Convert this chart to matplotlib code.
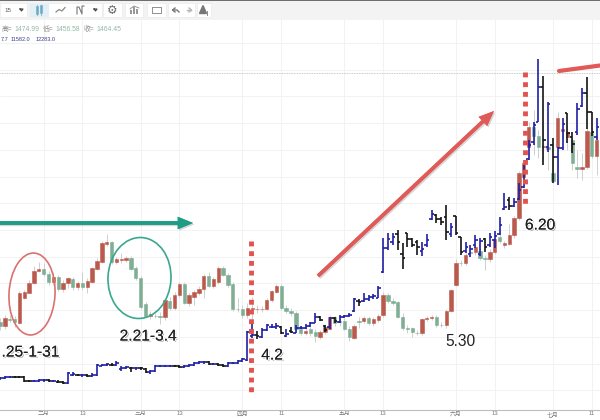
import matplotlib
matplotlib.use("Agg")
import matplotlib.pyplot as plt
import matplotlib.patheffects as pe
from matplotlib.patches import Ellipse, FancyArrowPatch, Rectangle
import numpy as np

plt.rcParams['font.family'] = ['Liberation Sans', 'Noto Sans CJK SC', 'DejaVu Sans']

# daily candles, one entry per trading day
opens = [1215.3, 1211, 1218.5, 1218, 1214.3, 1239, 1244.3, 1254.3, 1266, 1268.3, 1263, 1255, 1260.3, 1248, 1254, 1258, 1249.7, 1254, 1249.7, 1255.3,
         1268, 1275.3, 1293.3, 1294.7, 1274.7, 1277, 1276.7, 1279.3, 1268.7, 1259, 1233, 1221, 1221.5, 1221, 1220.3, 1236, 1229, 1242, 1252.7, 1234,
         1240.3, 1244.3, 1247.7, 1261, 1251, 1255, 1269, 1262, 1252.7, 1228.3, 1228.3, 1222, 1228, 1228, 1228, 1228.3, 1236.7, 1245.3, 1251, 1228.7,
         1226, 1223.7, 1207.7, 1204.3, 1208, 1205, 1200.3, 1205, 1208.3, 1219.7, 1216, 1216.3, 1208.3, 1199.3, 1216, 1215.7, 1218.7, 1213.7, 1217, 1222,
         1242, 1236, 1234.7, 1220.3, 1209, 1208.7, 1204.5, 1203.7, 1217.7, 1218.7, 1219.7, 1212.2, 1211.7, 1226.3, 1252, 1274.5, 1273.7, 1285, 1284.7, 1286,
         1279.3, 1277.7, 1284.7, 1300, 1291.7, 1293.3, 1301.7, 1318.7, 1360, 1390, 1410, 1401, 1390, 1390, 1364, 1390, 1406, 1400, 1397, 1370,
         1368, 1370, 1405, 1381]
closes = [1211.3, 1219, 1217.5, 1215, 1244.3, 1245, 1254.3, 1266, 1268.3, 1263, 1255.3, 1260.3, 1248, 1254.3, 1259, 1249.7, 1253.7, 1249.7, 1256, 1268.7,
          1276, 1293.7, 1294.7, 1274.7, 1277.7, 1278, 1279, 1268, 1259, 1229.7, 1221.3, 1223.3, 1221, 1220.5, 1237, 1229.3, 1242, 1252.7, 1234.3, 1242.3,
          1244.7, 1247.7, 1261, 1251, 1257.7, 1269, 1262, 1252, 1227.7, 1227.7, 1222, 1228.7, 1229, 1228.5, 1228.5, 1236.7, 1245.7, 1251, 1228.7, 1226.3,
          1223.7, 1207.7, 1204.3, 1206, 1204.3, 1201, 1205, 1210.3, 1219.7, 1213.7, 1215, 1208, 1199.7, 1210.7, 1215, 1218.7, 1213.7, 1218, 1220.7, 1242,
          1235.7, 1234.5, 1220.3, 1208.7, 1208.5, 1205.3, 1204, 1217.7, 1219, 1220, 1212, 1211.7, 1226.3, 1247, 1273.7, 1274, 1282, 1284, 1289.7, 1279.3,
          1277.7, 1285.3, 1298.3, 1296.3, 1293.7, 1301.7, 1318.7, 1364, 1374, 1410, 1401, 1390, 1391, 1388, 1356, 1419, 1408, 1405, 1374, 1368.5,
          1370, 1406, 1381, 1397]
highs = [1219, 1222, 1222, 1221, 1246, 1247, 1257, 1271, 1275.3, 1274, 1266, 1265, 1262, 1257, 1260, 1260, 1256, 1265, 1259, 1270,
         1279, 1296, 1303, 1296, 1280, 1284, 1281, 1281, 1271, 1261, 1235, 1226, 1224, 1225, 1239, 1240, 1245, 1255, 1255, 1244,
         1247, 1251, 1263, 1265, 1260, 1271, 1271, 1264, 1255, 1239, 1232, 1234, 1240, 1232, 1231, 1239, 1247, 1253, 1253, 1232,
         1229, 1226, 1210, 1211, 1210, 1208, 1207, 1213, 1222, 1221, 1219, 1219, 1211, 1213, 1220, 1221, 1221, 1220, 1223, 1245,
         1244, 1239, 1236, 1224, 1212, 1210, 1207, 1219, 1221, 1222, 1222, 1215, 1228, 1248, 1278, 1277, 1284, 1288, 1293, 1289,
         1282, 1288, 1301, 1305, 1296, 1313, 1321, 1366, 1377, 1415, 1427, 1407, 1417, 1395, 1382, 1425, 1412, 1412, 1399, 1387,
         1384, 1409, 1409, 1402]
lows = [1207, 1208, 1215, 1210, 1213, 1238, 1244, 1253, 1265, 1261, 1252, 1252, 1246, 1245, 1249, 1247, 1247, 1247, 1244, 1254,
        1267, 1274, 1291, 1273, 1273, 1274, 1275, 1267, 1257, 1228, 1220, 1218, 1219, 1213, 1217, 1227, 1227, 1240, 1233, 1231,
        1232, 1242, 1239, 1250, 1249, 1253, 1261, 1250, 1226, 1225, 1219, 1219, 1215, 1224, 1225, 1227, 1235, 1244, 1227, 1224,
        1221, 1205, 1202, 1202, 1201, 1195, 1198, 1203, 1207, 1211, 1211, 1207, 1196, 1198, 1209, 1214, 1212, 1211, 1215, 1220,
        1234, 1232, 1219, 1207, 1204, 1200, 1202, 1202, 1216, 1217, 1210, 1210, 1209, 1225, 1251, 1271, 1272, 1281, 1282, 1277,
        1267, 1275, 1283, 1294, 1289, 1292, 1299, 1317, 1357, 1387, 1382, 1379, 1377, 1367, 1354, 1367, 1398, 1387, 1367, 1359,
        1357, 1368, 1379, 1362]

# second symbol drawn as bars (open tick left, close tick right)
bar_opens = [1158, 1159, 1160, 1160.3, 1160.5, 1160, 1156.5, 1156, 1156, 1156.7, 1156.7, 1156, 1155.5, 1155, 1153.7, 1162.5, 1162.5, 1161.7, 1161.7, 1161,
             1162.5, 1171.5, 1172, 1172.5, 1172, 1168, 1169, 1169, 1168.7, 1169.3, 1168, 1165, 1166, 1171, 1171, 1171, 1171.5, 1171, 1170.5, 1171,
             1172, 1174.3, 1174.7, 1175, 1173, 1173, 1172, 1171, 1174, 1174.3, 1176.3, 1177.5, 1201, 1202, 1200, 1207, 1210, 1210, 1210, 1201,
             1206, 1204, 1209, 1209.5, 1211.5, 1214, 1220, 1211, 1210, 1219, 1215, 1220, 1221, 1226, 1236, 1236, 1238, 1240, 1239, 1265,
             1289, 1295, 1303, 1283, 1304, 1298, 1295, 1286, 1292, 1318, 1322, 1318, 1320, 1303, 1321, 1300, 1286, 1283, 1292, 1283,
             1298, 1292, 1297, 1303, 1328, 1337, 1331, 1338, 1350, 1378, 1395, 1415, 1450, 1390, 1392, 1380, 1389, 1424, 1400, 1405,
             1431, 1444, 1425, 1400]
bar_closes = [1159, 1160, 1160.3, 1160, 1160.3, 1156.3, 1156.2, 1156, 1156.7, 1156.7, 1156, 1156, 1155, 1153.7, 1164.3, 1162.7, 1161.7, 1161.7, 1161, 1162.5,
              1172, 1172, 1173, 1172, 1174.3, 1169, 1170, 1168.7, 1169.3, 1168.7, 1165, 1166, 1171, 1171, 1171, 1171.5, 1171, 1170, 1171, 1172,
              1174.3, 1174.7, 1175, 1173, 1173, 1172, 1171, 1174.3, 1174.3, 1176.3, 1177.7, 1205.3, 1202, 1201, 1207, 1212, 1210.3, 1211, 1203.7, 1203,
              1205, 1209, 1209.5, 1211.5, 1214, 1220.3, 1217, 1207, 1219, 1216, 1220, 1221, 1222, 1238, 1235, 1238, 1240, 1241, 1249, 1289,
              1298, 1300, 1295, 1279, 1298, 1292, 1290, 1288, 1297, 1323, 1318, 1315, 1305, 1310, 1304, 1285, 1290, 1288, 1297, 1296,
              1290, 1300, 1301, 1312, 1330, 1331, 1335, 1347, 1365, 1392, 1412, 1450, 1397, 1433, 1380, 1389, 1413, 1404, 1393, 1428,
              1444, 1425, 1405, 1410]
bar_highs = [1160, 1161, 1161.5, 1161.5, 1161.5, 1161, 1157.5, 1157, 1158, 1158, 1158, 1157, 1157, 1156, 1165, 1165, 1163.5, 1163, 1163, 1164,
             1173, 1173, 1174, 1174, 1176, 1171, 1171, 1170, 1170.5, 1170, 1169, 1167, 1172, 1172, 1172, 1172.5, 1172.5, 1172, 1172, 1173,
             1175, 1176, 1176, 1176, 1174, 1174, 1173, 1175, 1175, 1177, 1179, 1206, 1214, 1206, 1208.7, 1213, 1213, 1214, 1211, 1207.7,
             1210, 1212, 1211, 1213, 1215.5, 1224, 1221, 1212, 1220, 1220, 1222, 1222, 1224, 1239, 1238, 1244, 1242, 1243, 1251, 1299,
             1304, 1304, 1307, 1294, 1304, 1299, 1297, 1295, 1303, 1327, 1323, 1320, 1332, 1314, 1321, 1300, 1295, 1292, 1302, 1299,
             1299, 1304, 1306, 1320, 1344, 1340, 1339, 1354, 1372, 1397, 1415, 1478, 1461, 1435, 1399, 1390, 1419, 1424, 1405, 1434,
             1449, 1460, 1425, 1419]
bar_lows = [1157, 1158, 1159, 1159, 1159, 1155.5, 1155, 1155, 1155, 1155.5, 1155, 1155, 1154, 1153, 1153, 1161.5, 1161, 1160.5, 1160, 1160,
            1161.5, 1171, 1171, 1171, 1171, 1166, 1168, 1165.5, 1167.5, 1167.5, 1164, 1163.5, 1165, 1170, 1170, 1170, 1170, 1169, 1169.5, 1170,
            1171, 1173, 1173.5, 1172, 1172, 1171, 1170, 1170, 1173, 1173, 1175, 1176, 1199, 1198, 1199, 1206, 1209, 1208, 1203, 1200,
            1204, 1204, 1208, 1208, 1210, 1214, 1216, 1205, 1208, 1214, 1214, 1219, 1220, 1225.3, 1231, 1235, 1236, 1238, 1239, 1264,
            1287, 1292, 1287, 1268, 1290, 1290, 1282, 1281, 1290, 1317, 1314, 1312, 1297, 1300, 1302, 1282, 1284, 1280, 1289, 1281,
            1285, 1290, 1289, 1302, 1327, 1327, 1330, 1337, 1349, 1377, 1392, 1415, 1372, 1385, 1354, 1352, 1387, 1394, 1384, 1402,
            1430, 1408, 1401, 1397]

last_price = 1464
tick_days = [9, 17, 29, 37, 50, 58, 71, 79, 94, 102, 114, 122]
tick_names = ['二月', '13', '三月', '13', '四月', '11', '五月', '13', '六月', '13', '七月', '11']

UP = '#bb5a4c'
DOWN = '#7fae94'


def draw_candles(ax):
    days = np.arange(len(opens))
    o = np.array(opens)
    c = np.array(closes)
    colors = [UP if a >= b else DOWN for a, b in zip(c, o)]
    ax.vlines(days, lows, highs, color='#cfcfcf', lw=0.7, zorder=2)
    ax.bar(days, np.abs(c - o), bottom=np.minimum(o, c), width=0.7,
           color=colors, edgecolor=colors, lw=0.4, zorder=3)


def draw_bars(ax):
    days = np.arange(len(bar_opens))
    for d, o, h, l, c in zip(days, bar_opens, bar_highs, bar_lows, bar_closes):
        col = '#1f1fa6' if c >= o else '#151515'
        ax.vlines(d, l, h, color=col, lw=1.2, zorder=4)
        ax.hlines(o, d - 0.5, d, color=col, lw=1.2, zorder=4)
        ax.hlines(c, d, d + 0.5, color=col, lw=1.2, zorder=4)


def draw_toolbar(top):
    top.add_patch(Rectangle((0, 0), 600, 19.5, fc='#f3f3f3', ec='none'))
    top.add_patch(Rectangle((0, 0), 600, 1.2, fc='#6e6e6e', ec='none'))
    for x0, x1 in [(0, 27), (29, 102), (103, 122), (125, 143), (147, 166), (168, 195), (197, 211)]:
        top.add_patch(Rectangle((x0, 3), x1 - x0, 14, fc='white', ec='#ececec', lw=0.5))
    top.add_patch(Rectangle((30, 3.5), 19, 13, fc='#e3eff6', ec='none'))
    top.text(8, 10, '15', fontsize=4.5, color='#555555', ha='center', va='center')
    for x in [21.5, 95.5]:
        top.plot([x - 1.5, x + 1.5, x, x - 1.5], [9, 9, 11, 9], color='#444444', lw=0.8)
    # candle icon
    top.plot([37, 37], [5, 15], color='#7fb5c9', lw=0.6)
    top.plot([41, 41], [5, 15], color='#7fb5c9', lw=0.6)
    top.plot([37, 37], [7, 13], color='#6aa9c0', lw=1.8)
    top.plot([41, 41], [6, 12], color='#6aa9c0', lw=1.8)
    top.plot([56, 59, 62, 65], [12, 9.5, 11, 7.5], color='#8a8a8a', lw=0.9)
    top.plot([77, 77, 79, 82, 82, 84], [14, 7, 7, 14, 6, 6], color='#777777', lw=0.8)
    top.text(112.5, 10, '⚙', fontsize=8.5, color='#666666', ha='center', va='center', family='DejaVu Sans')
    top.bar([131, 134, 137], [-4, -7, -5], bottom=[14, 14, 14], width=2, color='#999999')
    top.plot([130, 134, 139], [9, 6, 8], color='#888888', lw=0.6)
    top.plot([152, 152, 161, 161, 152], [7, 13, 13, 7, 7], color='#909090', lw=0.7)
    top.plot([173, 177, 177, 179], [10, 10, 10, 12], color='#777777', lw=1.0)
    top.plot([175, 172.5, 175], [8, 10, 12], color='#777777', lw=1.0)
    top.plot([187, 191], [10, 10], color='#b5b5b5', lw=1.0)
    top.plot([189, 191.5, 189], [8, 10, 12], color='#b5b5b5', lw=1.0)
    top.fill([203, 199.5, 206.5], [5.5, 13.5, 13.5], color='#777777')
    top.plot([207, 207], [11, 15], color='#777777', lw=0.6)


def draw_header(top):
    label = '#8f8f8f'
    value = '#93b8a5'
    for x, s, col in [(2, '高=', label), (14, '1474.99', value), (43, '低=', label),
                      (55, '1456.58', value), (84, '收=', label), (96, '1464.45', value)]:
        top.text(x, 29.5, s, fontsize=4.9, color=col, va='center')
    for x, s in [(0.5, '7.7'), (11, '11582.0'), (36, '12283.0')]:
        top.text(x, 39.7, s, fontsize=4.0, color='#3b3b8f', va='center')


def draw_markup(top):
    top.add_patch(Ellipse((32, 294), 46, 82, angle=3, fc='none', ec='#d9726f', lw=1.2, zorder=6))
    top.add_patch(Ellipse((139.5, 278), 63, 81, angle=3, fc='none', ec='#3aa78f', lw=1.2, zorder=6))

    arrow = dict(arrowstyle='simple,head_width=9,head_length=11,tail_width=2.6', lw=0, zorder=7, shrinkA=0, shrinkB=0)
    shadow = [pe.withSimplePatchShadow(offset=(1, -1), shadow_rgbFace='#999999', alpha=0.4), pe.Normal()]
    a1 = FancyArrowPatch((-5, 223), (193, 223), color='#1e9c86', **arrow)
    a2 = FancyArrowPatch((318, 276), (494, 111), color='#e05a58', **arrow)
    a1.set_path_effects(shadow)
    a2.set_path_effects(shadow)
    top.add_patch(a1)
    top.add_patch(a2)
    top.plot([559, 600], [71, 65.5], color='#e05a58', lw=3, solid_capstyle='round', zorder=7)

    for x, y0, y1 in [(250.7, 241, 395), (524.5, 72, 208)]:
        top.plot([x, x], [y0, y1], color='#e2524f', lw=3.5, linestyle=(0, (1.0, 1.0)),
                 dash_capstyle='butt', zorder=8)

    halo = [pe.withSimplePatchShadow(offset=(1, -1), shadow_rgbFace='#777777', alpha=0.7),
            pe.withStroke(linewidth=1.6, foreground='white'), pe.Normal()]
    # the first digit of this label is off the picture in the reference
    for x, y, s, ha in [(1.5, 352, '.25-1-31', 'left'), (148, 336, '2.21-3.4', 'center'),
                        (272, 355, '4.2', 'center'), (540, 225, '6.20', 'center')]:
        top.text(x, y, s, fontsize=11.2, color='#222222', ha=ha, va='center', path_effects=halo, zorder=9)
    top.text(460.5, 341.5, '5.30', fontsize=11.2, color='#222222', ha='center', va='center', zorder=9)


def main():
    fig = plt.figure(figsize=(6, 4.2), dpi=100, facecolor='white')
    ax = fig.add_axes([0, 10 / 420, 1, 390 / 420])
    draw_candles(ax)
    draw_bars(ax)
    ax.axhline(last_price, color='#a8bfb3', lw=0.6, linestyle=(0, (1, 1)), zorder=1)

    ax.set_xlim(0, 600 / 4.85)
    ax.set_ylim(1127, 1517)
    ax.set_xticks(tick_days)
    ax.set_xticklabels(tick_names, fontsize=4.2, color='#777777')
    ax.set_yticks(np.arange(1146.8, 1517, 26.7))
    ax.tick_params(axis='y', length=0, labelleft=False)
    ax.tick_params(axis='x', length=0, pad=1.0)
    ax.grid(color='#f0f0f0', lw=0.6)
    ax.set_axisbelow(True)
    for side in ['top', 'left', 'right']:
        ax.spines[side].set_visible(False)
    ax.spines['bottom'].set_color('#bdbdbd')
    ax.spines['bottom'].set_linewidth(0.8)

    # layer in image pixels for toolbar and hand-drawn marks
    top = fig.add_axes([0, 0, 1, 1], facecolor='none')
    top.set_xlim(0, 600)
    top.set_ylim(420, 0)
    top.axis('off')
    draw_toolbar(top)
    draw_header(top)
    draw_markup(top)

    fig.savefig('out.png', dpi=100)


if __name__ == "__main__":
    main()
